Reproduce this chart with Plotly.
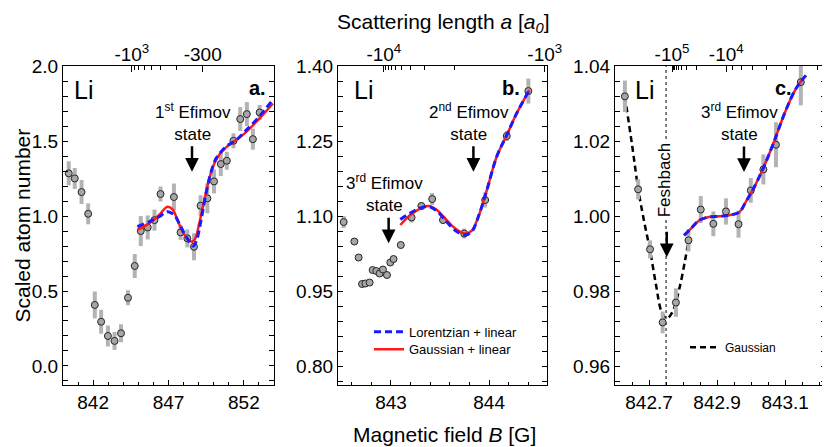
import plotly.graph_objects as go

FONT = "Liberation Sans, Arial, sans-serif"

# Li-Cs Feshbach resonance, used to place the scattering-length ticks on top
B0 = 842.75
DELTA = 60.0
A_BG = -29.4


def b_of_a(a):
    return B0 + DELTA / (a / A_BG - 1.0)


# ---------------- panel a ----------------
a_B = [840.38, 840.78, 841.23, 841.67, 842.11, 842.53, 842.98, 843.42, 843.85, 844.31,
       844.76, 845.16, 845.62, 846.07, 846.47, 847.36, 847.80, 848.25, 848.69, 849.13,
       849.58, 850.02, 850.47, 850.87, 851.31, 851.76, 852.20, 852.60, 853.05]
a_N = [1.285, 1.251, 1.160, 1.015, 0.407, 0.295, 0.200, 0.167, 0.218, 0.455,
       0.667, 0.900, 0.924, 0.973, 1.147, 1.127, 0.891, 0.851, 0.795, 1.069,
       1.118, 1.231, 1.347, 1.369, 1.502, 1.647, 1.680, 1.513, 1.691]
a_err = [0.08, 0.07, 0.08, 0.07, 0.09, 0.08, 0.07, 0.06, 0.06, 0.05,
         0.08, 0.10, 0.08, 0.07, 0.05, 0.09, 0.05, 0.06, 0.09, 0.07,
         0.10, 0.08, 0.08, 0.06, 0.05, 0.08, 0.08, 0.07, 0.05]
a_gauss_B = [844.93, 845.71, 846.38, 846.93, 847.27, 847.60, 847.93, 848.27, 848.56, 848.78,
             849.04, 849.38, 849.71, 850.04, 850.38, 850.82, 851.49, 852.16, 853.04, 853.93]
a_gauss = [0.907, 0.951, 1.007, 1.062, 1.044, 0.973, 0.896, 0.847, 0.829, 0.851,
           0.951, 1.107, 1.251, 1.351, 1.411, 1.458, 1.507, 1.562, 1.651, 1.751]
a_lor_B = [844.93, 845.71, 846.38, 846.93, 847.38, 847.71, 848.05, 848.38, 848.65, 848.87,
           849.16, 849.49, 849.83, 850.16, 850.49, 850.93, 851.49, 852.16, 853.05, 853.93]
a_lor = [0.930, 0.962, 0.996, 1.029, 1.007, 0.951, 0.884, 0.829, 0.800, 0.840,
         0.973, 1.151, 1.296, 1.385, 1.429, 1.473, 1.507, 1.573, 1.667, 1.778]

# ---------------- panel b ----------------
b_B = [842.518, 842.627, 842.670, 842.705, 842.739, 842.782, 842.813, 842.850, 842.884, 842.918,
       842.959, 842.993, 843.026, 843.100, 843.210, 843.310, 843.420, 843.530, 843.746, 843.960,
       844.180, 844.400]
b_N = [1.088, 1.049, 1.017, 0.964, 0.965, 0.967, 0.992, 0.990, 0.985, 0.993,
       0.982, 1.007, 1.014, 1.042, 1.097, 1.120, 1.134, 1.092, 1.065, 1.132,
       1.260, 1.350]
b_err = [0.012, 0.004, 0.004, 0.004, 0.004, 0.004, 0.004, 0.004, 0.004, 0.004,
         0.004, 0.004, 0.004, 0.004, 0.010, 0.008, 0.012, 0.008, 0.010, 0.015,
         0.010, 0.025]
b_fit_B = [843.095, 843.196, 843.298, 843.383, 843.468, 843.552, 843.654, 843.756, 843.824, 843.891,
           843.977, 844.078, 844.180, 844.280, 844.410]
b_gauss = [1.082, 1.102, 1.115, 1.120, 1.112, 1.095, 1.075, 1.065, 1.071, 1.099,
           1.152, 1.219, 1.262, 1.305, 1.352]
b_lor = [1.093, 1.106, 1.116, 1.119, 1.110, 1.092, 1.071, 1.062, 1.069, 1.099,
         1.152, 1.219, 1.262, 1.305, 1.352]

# ---------------- panel c ----------------
c_B = [842.629, 842.668, 842.703, 842.740, 842.779, 842.816, 842.852, 842.889, 842.926, 842.963,
       842.999, 843.036, 843.073, 843.146]
c_N = [1.0320, 1.0072, 0.9912, 0.9717, 0.9770, 0.9936, 1.0018, 0.9980, 1.0013, 0.9979,
       1.0069, 1.0125, 1.0191, 1.0358]
c_err = [0.0042, 0.0027, 0.0024, 0.0029, 0.0038, 0.0030, 0.0036, 0.0033, 0.0035, 0.0036,
         0.0033, 0.0040, 0.0060, 0.0062]
c_fesh_B = [842.629, 842.651, 842.668, 842.685, 842.703, 842.720, 842.737, 842.752, 842.769, 842.788,
            842.806, 842.816]
c_fesh = [1.0320, 1.0185, 1.0074, 0.9989, 0.9909, 0.9820, 0.9745, 0.9727, 0.9745, 0.9803,
          0.9883, 0.9936]
c_fit_B = [842.803, 842.823, 842.847, 842.876, 842.906, 842.935, 842.965, 842.984, 843.004, 843.033,
           843.063, 843.102, 843.132, 843.161]
c_gauss = [0.9949, 0.9967, 0.9989, 0.9998, 1.0000, 1.0003, 1.0011, 1.0038, 1.0069, 1.0123,
           1.0189, 1.0283, 1.0341, 1.0376]
c_lor = [0.9949, 0.9967, 0.9989, 0.9998, 1.0000, 1.0003, 1.0011, 1.0038, 1.0069, 1.0123,
         1.0189, 1.0283, 1.0341, 1.0376]

# scattering length ticks (top axes), in a0
top_a_major = [-1000, -300]
top_a_labels = ["-10<sup>3</sup>", "-300"]
top_a_minor = [-900, -800, -700, -600, -500, -400]
top_b_major = [-10000, -1000]
top_b_labels = ["-10<sup>4</sup>", "-10<sup>3</sup>"]
top_b_minor = [-9000, -8000, -7000, -6000, -5000, -4000, -3000, -2000]
top_c_major = [-100000, -10000]
top_c_labels = ["-10<sup>5</sup>", "-10<sup>4</sup>"]
top_c_minor = [-90000, -80000, -70000, -60000, -50000, -40000, -30000, -20000,
               -9000, -8000, -7000, -6000, -5000, -4000]

RANGES_X = [[840.0, 854.0], [842.46, 844.59], [842.6, 843.22]]
RANGES_Y = [[-0.127, 2.001], [0.762, 1.4001], [0.955, 1.0401]]

W, H = 830, 447
# the page puts the figure 8 px in from the window corner
OFF = 8


def px(x):
    return (x - OFF) / W


def py(y):
    return 1 - (y - OFF) / H


DOM_X = [[px(63), px(274)], [px(338), px(547)], [px(615), px(826)]]
DOM_Y = [py(385), py(66)]

RED = "#ff1a1a"
BLUE = "#1a1aff"
GRAY_ERR = "#b3b3b3"

fig = go.Figure()


def add_points(B, N, err, xa, ya):
    fig.add_trace(go.Scatter(
        x=B, y=N, mode="markers", xaxis=xa, yaxis=ya, showlegend=False,
        error_y=dict(type="data", array=err, color=GRAY_ERR, thickness=4, width=0),
        marker=dict(size=7, color="#a6a6a6", line=dict(color="#262626", width=1))
    ))


def add_fits(Bg, g, Bl, l, xa, ya, legend=False):
    fig.add_trace(go.Scatter(
        x=Bg, y=g, mode="lines", xaxis=xa, yaxis=ya, name="Gaussian + linear",
        line=dict(color=RED, width=2.5, shape="spline"), showlegend=legend, legend="legend3"
    ))
    fig.add_trace(go.Scatter(
        x=Bl, y=l, mode="lines", xaxis=xa, yaxis=ya, name="Lorentzian + linear",
        line=dict(color=BLUE, width=3, dash="7px,4px", shape="spline"), showlegend=legend, legend="legend"
    ))


add_points(a_B, a_N, a_err, "x", "y")
add_fits(a_gauss_B, a_gauss, a_lor_B, a_lor, "x", "y")

add_points(b_B, b_N, b_err, "x2", "y2")
add_fits(b_fit_B, b_gauss, b_fit_B, b_lor, "x2", "y2", legend=True)

fig.add_trace(go.Scatter(
    x=c_fesh_B, y=c_fesh, mode="lines", xaxis="x3", yaxis="y3", name="Gaussian",
    line=dict(color="black", width=2.5, dash="6px,4px", shape="spline"), legend="legend2"
))
add_points(c_B, c_N, c_err, "x3", "y3")
add_fits(c_fit_B, c_gauss, c_fit_B, c_lor, "x3", "y3")

# empty traces so that the top (scattering length) axes get drawn
for i in range(3):
    fig.add_trace(go.Scatter(x=RANGES_X[i], y=[None, None], mode="lines", showlegend=False,
                             hoverinfo="skip", xaxis="x%d" % (i + 4),
                             yaxis="y" if i == 0 else "y%d" % (i + 1)))

tickfont = dict(family=FONT, size=19, color="black")


def bottom_axis(i, dtick, tick0, minor, fmt):
    return dict(domain=DOM_X[i], range=RANGES_X[i], anchor="y" if i == 0 else "y%d" % (i + 1),
                showline=True, linecolor="black", linewidth=1.2, mirror=True, automargin=False,
                ticks="inside", ticklen=5, tickwidth=1, tickcolor="black",
                tick0=tick0, dtick=dtick, tickformat=fmt,
                minor=dict(tick0=tick0, dtick=minor, ticks="inside", ticklen=3, tickcolor="black"),
                showgrid=False, zeroline=False, tickfont=tickfont)


def left_axis(i, dtick, tick0, minor, fmt):
    return dict(domain=DOM_Y, range=RANGES_Y[i], anchor="x" if i == 0 else "x%d" % (i + 1),
                showline=True, linecolor="black", linewidth=1.2, mirror="allticks", automargin=False,
                ticks="inside", ticklen=5, tickwidth=1, tickcolor="black",
                tick0=tick0, dtick=dtick, tickformat=fmt,
                minor=dict(tick0=tick0, dtick=minor, ticks="inside", ticklen=3, tickcolor="black"),
                showgrid=False, zeroline=False, tickfont=tickfont)


def top_axis(i, major, labels, minor):
    return dict(overlaying="x" if i == 0 else "x%d" % (i + 1),
                anchor="y" if i == 0 else "y%d" % (i + 1), side="top", automargin=False,
                range=RANGES_X[i], tickmode="array",
                tickvals=[b_of_a(v) for v in major], ticktext=labels,
                ticks="inside", ticklen=6, tickwidth=1, tickcolor="black",
                minor=dict(tickmode="array", tickvals=[b_of_a(v) for v in minor],
                           ticks="inside", ticklen=4, tickcolor="black"),
                showline=False, showgrid=False, zeroline=False, tickfont=tickfont)


legend_style = dict(xanchor="left", yanchor="middle", bgcolor="rgba(0,0,0,0)", itemwidth=30)

fig.update_layout(
    width=W, height=H, margin=dict(l=0, r=0, t=0, b=0, autoexpand=False),
    paper_bgcolor="white", plot_bgcolor="white",
    font=dict(family=FONT, color="black"),
    xaxis=bottom_axis(0, 5, 842, 1, ".0f"),
    xaxis2=bottom_axis(1, 1, 843, 0.2, ".0f"),
    xaxis3=bottom_axis(2, 0.2, 842.7, 0.05, ".1f"),
    yaxis=left_axis(0, 0.5, 0, 0.1, ".1f"),
    yaxis2=left_axis(1, 0.15, 0.8, 0.03, ".2f"),
    yaxis3=left_axis(2, 0.02, 0.96, 0.004, ".2f"),
    xaxis4=top_axis(0, top_a_major, top_a_labels, top_a_minor),
    xaxis5=top_axis(1, top_b_major, top_b_labels, top_b_minor),
    xaxis6=top_axis(2, top_c_major, top_c_labels, top_c_minor),
    legend=dict(x=px(369), y=py(331.7), font=dict(family=FONT, size=13), **legend_style),
    legend3=dict(x=px(369), y=py(349.3), font=dict(family=FONT, size=13), **legend_style),
    legend2=dict(x=px(685), y=py(347.3), font=dict(family=FONT, size=12), **legend_style),
)

# Feshbach resonance position
fig.add_shape(type="line", xref="x3", yref="y3 domain", x0=B0, x1=B0, y0=0, y1=1,
              line=dict(color="black", width=1, dash="3px,3px"), layer="below")


def paper_text(xp, yp, text, size, **kw):
    d = dict(xref="paper", yref="paper", x=px(xp), y=py(yp), text=text,
             xanchor="center", yanchor="middle", showarrow=False, font=dict(size=size))
    d.update(kw)
    return d


ann = []
# "Li" and panel letters
for xl, letter, xr in [(83, "a.", 257), (363, "b.", 511), (644, "c.", 783)]:
    ann.append(paper_text(xl, 90, "Li", 25))
    ann.append(paper_text(xr, 88, "<b>%s</b>" % letter, 20))

# Efimov labels
txt = dict(showarrow=False, font=dict(size=17), xanchor="center", yanchor="middle")
ann.append(dict(xref="x", yref="y", x=848.65, y=1.629, text="1<sup>st</sup> Efimov<br>state", **txt))
ann.append(dict(xref="x2", yref="y2", x=843.79, y=1.2886, text="2<sup>nd</sup> Efimov<br>state", **txt))
ann.append(dict(xref="x2", yref="y2", x=842.93, y=1.1454, text="3<sup>rd</sup> Efimov<br>state", **txt))
ann.append(dict(xref="x3", yref="y3", x=842.965, y=1.0251, text="3<sup>rd</sup> Efimov<br>state", **txt))
ann.append(dict(xref="x3", yref="y3", x=842.744, y=1.0096, text="Feshbach", textangle=-90,
                bgcolor="white", **txt))

# arrows
arr = dict(text="", showarrow=True, arrowhead=2, arrowsize=1.1, arrowwidth=2.5,
           arrowcolor="black", ax=0, ay=-27)
for xr, yr, xv, yv in [("x", "y", 848.56, 1.295), ("x2", "y2", 843.84, 1.1886),
                       ("x2", "y2", 842.976, 1.0454), ("x3", "y3", 842.979, 1.0118),
                       ("x3", "y3", 842.752, 0.9891)]:
    ann.append(dict(xref=xr, yref=yr, x=xv, y=yv, **arr))

# axis titles (the top and left ones sit against the figure edge)
ann.append(dict(xref="paper", yref="paper", x=px(443), y=1, xanchor="center", yanchor="top",
                text="Scattering length <i>a</i> [<i>a<sub>0</sub></i>]",
                showarrow=False, font=dict(size=21)))
ann.append(paper_text(444, 434, "Magnetic field <i>B</i> [G]", 21))
ann.append(dict(xref="paper", yref="paper", x=0, y=py(226), xanchor="left", yanchor="middle",
                textangle=-90, text="Scaled atom number", showarrow=False, font=dict(size=21)))

fig.update_layout(annotations=ann)

fig.write_html("out.html")
